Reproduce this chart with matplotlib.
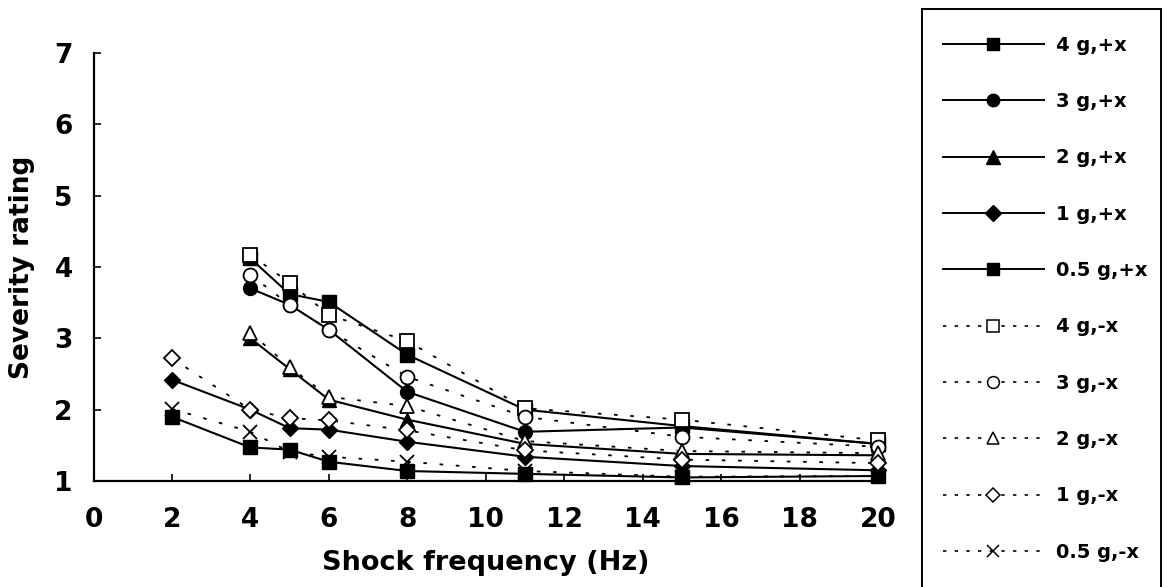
import matplotlib.pyplot as plt
from matplotlib.lines import Line2D
from matplotlib.patches import Rectangle

# shock frequencies (Hz)
freq_hi = [4, 5, 6, 8, 11, 15, 20]
freq_lo = [2, 4, 5, 6, 8, 11, 15, 20]

# severity ratings, +x direction
g4_pos = [4.12, 3.62, 3.51, 2.77, 2.00, 1.77, 1.52]
g3_pos = [3.70, 3.47, 3.12, 2.25, 1.69, 1.75, 1.52]
g2_pos = [3.00, 2.57, 2.14, 1.86, 1.52, 1.38, 1.36]
g1_pos = [2.42, 2.00, 1.74, 1.72, 1.55, 1.34, 1.21, 1.15]
g05_pos = [1.90, 1.47, 1.44, 1.27, 1.14, 1.10, 1.05, 1.07]

# severity ratings, -x direction
g4_neg = [4.17, 3.78, 3.33, 2.96, 2.02, 1.86, 1.57]
g3_neg = [3.89, 3.47, 3.12, 2.46, 1.90, 1.62, 1.48]
g2_neg = [3.08, 2.60, 2.18, 2.05, 1.56, 1.42, 1.39]
g1_neg = [2.72, 2.00, 1.88, 1.85, 1.71, 1.43, 1.30, 1.25]
g05_neg = [2.01, 1.69, 1.41, 1.34, 1.27, 1.14, 1.06, 1.07]

labels_pos = ['4 g,+x', '3 g,+x', '2 g,+x', '1 g,+x', '0.5 g,+x']
labels_neg = ['4 g,-x', '3 g,-x', '2 g,-x', '1 g,-x', '0.5 g,-x']

pos_series = [(freq_hi, g4_pos), (freq_hi, g3_pos), (freq_hi, g2_pos),
              (freq_lo, g1_pos), (freq_lo, g05_pos)]
neg_series = [(freq_hi, g4_neg), (freq_hi, g3_neg), (freq_hi, g2_neg),
              (freq_lo, g1_neg), (freq_lo, g05_neg)]

markers = ['s', 'o', '^', 'D', 's']
msizes = [10, 10, 10.5, 8.5, 10]
neg_markers = ['s', 'o', '^', 'D', 'x']
neg_msizes = [10, 10, 10.5, 8.5, 10.5]

plt.rcParams['font.family'] = 'DejaVu Sans'
plt.rcParams['font.weight'] = 'bold'

fig = plt.figure(figsize=(11.64, 5.87), dpi=100)
ax = fig.add_axes([93.5 / 1164, 106 / 587, 784.5 / 1164, 428 / 587])

dots = (0, (2, 7))

for (x, y), m, ms in zip(pos_series, markers, msizes):
    ax.plot(x, y, color='black', lw=1.5, marker=m, ms=ms,
            mfc='black', mec='black', mew=1.0, clip_on=False, zorder=3)

for (x, y), m, ms in zip(neg_series, neg_markers, neg_msizes):
    ax.plot(x, y, color='black', lw=1.3, ls=dots, marker=m, ms=ms,
            mfc='white', mec='black', mew=1.3, clip_on=False, zorder=4)

ax.set_xlim(0, 20)
ax.set_ylim(1, 7)
ax.set_xticks(range(0, 21, 2))
ax.set_yticks(range(1, 8))
ax.tick_params(direction='in', length=5, width=1.2, labelsize=19)
ax.tick_params(axis='x', pad=19)
ax.tick_params(axis='y', pad=15)
for side in ['top', 'right']:
    ax.spines[side].set_visible(False)
for side in ['left', 'bottom']:
    ax.spines[side].set_linewidth(1.6)

ax.set_xlabel('Shock frequency (Hz)', fontsize=19.5, fontweight='bold', labelpad=12)
ax.set_ylabel('Severity rating', fontsize=19, fontweight='bold', labelpad=14)

# legend handles
handles = []
for m, ms in zip(markers, msizes):
    handles.append(Line2D([], [], color='black', lw=1.4, marker=m, ms=ms * 0.9,
                          mfc='black', mec='black'))
for m, ms in zip(neg_markers, neg_msizes):
    handles.append(Line2D([], [], color='black', lw=1.2, ls=(0, (2, 5)),
                          marker=m, ms=ms * 0.85, mfc='white', mec='black', mew=1.1))

fig.legend(handles, labels_pos + labels_neg, loc='upper left',
           bbox_to_anchor=(935 / 1164, 1 - 28 / 587), frameon=False,
           prop={'size': 14, 'weight': 'bold'}, handlelength=5.2,
           handletextpad=0.6, labelspacing=1.92, borderaxespad=0)

fig.patches.append(Rectangle((922 / 1164, -0.05), 239 / 1164, 1.05 - 9 / 587,
                             transform=fig.transFigure, fill=False,
                             edgecolor='black', lw=1.4))

fig.savefig('out.png', dpi=100)
